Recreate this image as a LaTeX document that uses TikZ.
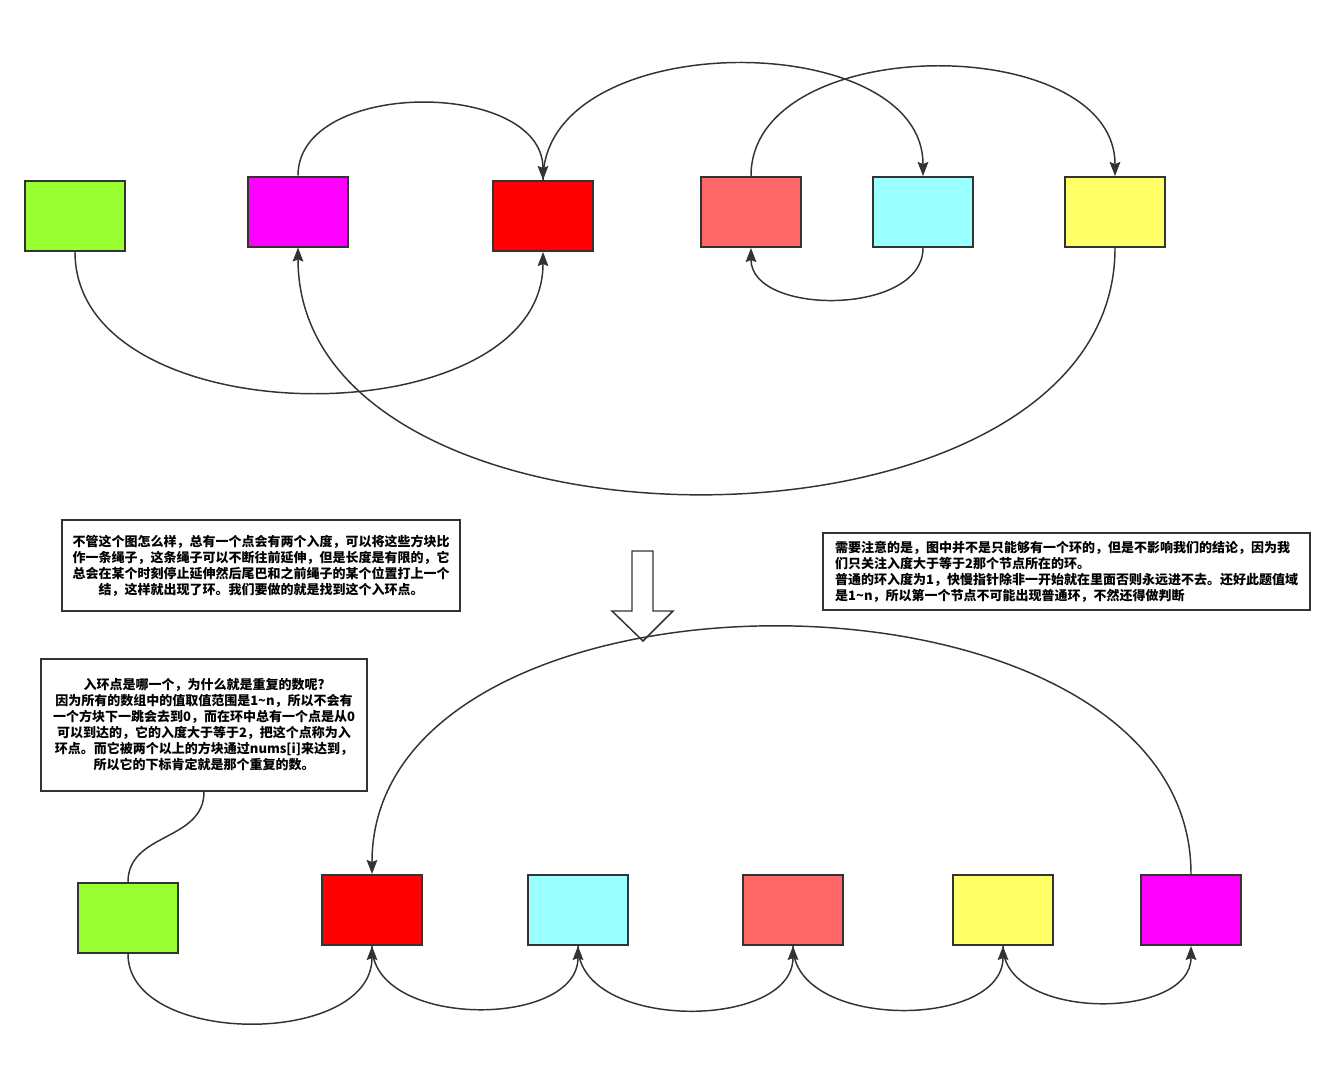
\documentclass[tikz,border=0pt]{standalone}
\usepackage{fontspec}
\newfontfamily\cjk{Noto Sans CJK SC}
\usetikzlibrary{arrows.meta}
\definecolor{lc}{HTML}{333333}
\definecolor{cGreen}{HTML}{99FF33}
\definecolor{cMag}{HTML}{FF00FF}
\definecolor{cRed}{HTML}{FF0000}
\definecolor{cSal}{HTML}{FF6666}
\definecolor{cCyan}{HTML}{99FFFF}
\definecolor{cYel}{HTML}{FFFF66}
\begin{document}
\begin{tikzpicture}[x=0.75pt,y=-0.75pt,
  blk/.style={draw=lc, line width=1.5pt, minimum width=75pt, minimum height=52.5pt, inner sep=0pt},
  conn/.style={draw=lc, line width=1.1pt, -{Stealth[length=10.5pt,width=8pt,inset=1.5pt]}},
  wire/.style={draw=lc, line width=1.1pt},
  note/.style={draw=lc, line width=1.1pt, fill=white, inner sep=3pt, font=\cjk\bfseries\fontsize{9.75}{12}\selectfont}]
\fill[white] (0,0) rectangle (1334,1075);
\useasboundingbox (0,0) rectangle (1334,1075);

% top row
\node[blk, fill=cGreen] (g1) at (75,216) {};
\node[blk, fill=cMag]   (m1) at (298,211.5) {};
\node[blk, fill=cRed]   (r1) at (543,216) {};
\node[blk, fill=cSal]   (s1) at (751,212) {};
\node[blk, fill=cCyan]  (c1) at (923,212) {};
\node[blk, fill=cYel]   (y1) at (1115,212) {};

\draw[conn] (m1.north) .. controls +(0,-97) and +(0,-101) .. (r1.north);
\draw[conn] (r1.north) .. controls +(0,-154) and +(0,-150) .. (c1.north);
\draw[conn] (s1.north) .. controls +(0,-145) and +(0,-145) .. (y1.north);
\draw[conn] (c1.south) .. controls +(0,68) and +(0,68) .. (s1.south);
\draw[conn] (g1.south) .. controls +(0,187) and +(0,187) .. (r1.south);
\draw[conn] (y1.south) .. controls +(0,327) and +(0,328) .. (m1.south);

% notes
\node[note, align=center, minimum width=298.5pt, minimum height=68.25pt] (n1) at (261,565.5)
 {不管这个图怎么样，总有一个点会有两个入度，可以将这些方块比\\作一条绳子，这条绳子可以不断往前延伸，但是长度是有限的，它\\总会在某个时刻停止延伸然后尾巴和之前绳子的某个位置打上一个\\结，这样就出现了环。我们要做的就是找到这个入环点。};
\node[note, align=left, text width=347pt, inner xsep=9pt, minimum height=57.75pt] (n2) at (1066.5,571.5)
 {需要注意的是，图中并不是只能够有一个环的，但是不影响我们的结论，因为我\\们只关注入度大于等于2那个节点所在的环。\\普通的环入度为1，快慢指针除非一开始就在里面否则永远进不去。还好此题值域\\是1\textasciitilde n，所以第一个节点不可能出现普通环，不然还得做判断};
\node[note, align=center, minimum width=244.5pt, minimum height=99pt] (n3) at (204,725)
 {入环点是哪一个，为什么就是重复的数呢?\\因为所有的数组中的值取值范围是1\textasciitilde n，所以不会有\\一个方块下一跳会去到0，而在环中总有一个点是从0\\可以到达的，它的入度大于等于2，把这个点称为入\\环点。而它被两个以上的方块通过nums[i]来达到，\\所以它的下标肯定就是那个重复的数。};

% block arrow
\draw[draw=lc, line width=1.1pt, fill=white, line join=miter]
 (632,551) -- (653,551) -- (653,611) -- (673,611) -- (643,641) -- (612,611) -- (632,611) -- cycle;

% bottom row
\node[blk, fill=cGreen] (g2) at (128,918) {};
\node[blk, fill=cRed]   (r2) at (372,910) {};
\node[blk, fill=cCyan]  (c2) at (578,910) {};
\node[blk, fill=cSal]   (s2) at (793,910) {};
\node[blk, fill=cYel]   (y2) at (1003,910) {};
\node[blk, fill=cMag]   (m2) at (1191,910) {};

\draw[wire] (n3.south) .. controls +(0,50) and +(0,-50) .. (g2.north);
\draw[conn] (g2.south) .. controls +(0,93) and +(0,101) .. (r2.south);
\draw[conn] (r2.south) .. controls +(0,83) and +(0,83) .. (c2.south);
\draw[conn] (c2.south) .. controls +(0,85) and +(0,85) .. (s2.south);
\draw[conn] (s2.south) .. controls +(0,84) and +(0,84) .. (y2.south);
\draw[conn] (y2.south) .. controls +(0,75) and +(0,75) .. (m2.south);
\draw[conn] (m2.north) .. controls +(0,-329) and +(0,-329) .. (r2.north);
\end{tikzpicture}
\end{document}
